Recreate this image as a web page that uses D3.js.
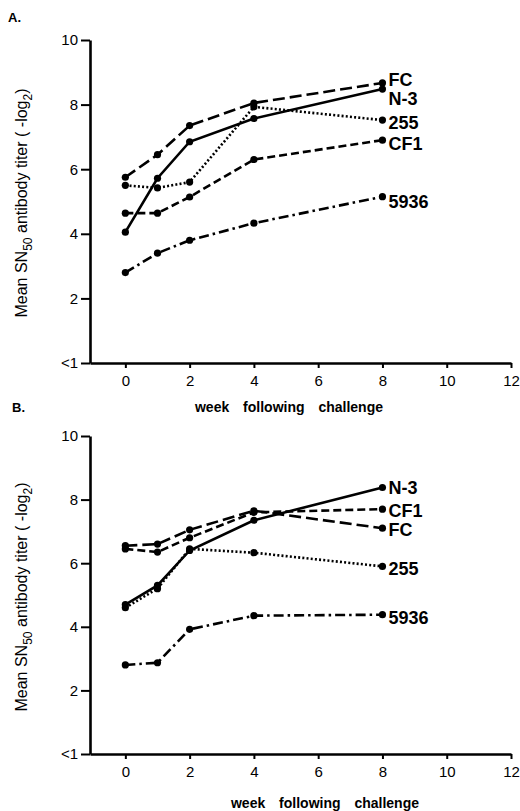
<!DOCTYPE html>
<html>
<head>
<meta charset="utf-8">
<script src="https://cdn.jsdelivr.net/npm/d3@7"></script>
<style>
body { margin: 0; background: #fff; }
svg { display: block; }
</style>
</head>
<body>
<svg id="chart" width="520" height="811"></svg>
<script>
// weeks on which titers were measured
var weeks = [0, 1, 2, 4, 8];
var xTicks = [0, 2, 4, 6, 8, 10, 12];
var yTicks = [0, 2, 4, 6, 8, 10];
var yTickLabels = ["<1", "2", "4", "6", "8", "10"];
var strains = ["FC", "N-3", "255", "CF1", "5936"];

// panel A
var aFC   = [5.75, 6.45, 7.35, 8.05, 8.67];
var aN3   = [4.05, 5.72, 6.85, 7.57, 8.48];
var a255  = [5.5, 5.42, 5.6, 7.93, 7.52];
var aCF1  = [4.64, 4.64, 5.14, 6.3, 6.9];
var a5936 = [2.8, 3.4, 3.8, 4.33, 5.15];

// panel B
var bFC   = [6.55, 6.6, 7.05, 7.65, 7.1];
var bN3   = [4.7, 5.3, 6.4, 7.35, 8.38];
var b255  = [4.6, 5.2, 6.45, 6.33, 5.9];
var bCF1  = [6.45, 6.35, 6.8, 7.6, 7.7];
var b5936 = [2.8, 2.87, 3.92, 4.35, 4.38];

var dash = {"FC": "12,5", "N-3": null, "255": "2,2.2", "CF1": "8,4", "5936": "10,4,2.5,4"};

var svg = d3.select("#chart");
svg.append("rect").attr("width", 520).attr("height", 811).attr("fill", "#fff");

var x = d3.scaleLinear().domain([-1.1, 12]).range([90, 511]);

function drawPanel(g, y, data, labelDy, letter, letterPos, titleX, titleY, ylabY) {
    var line = d3.line()
        .x(function(d) { return x(d[0]); })
        .y(function(d) { return y(d[1]); });

    // axes
    var ax = g.append("g")
        .attr("transform", "translate(90,0)")
        .call(d3.axisLeft(y).tickValues(yTicks)
            .tickFormat(function(d, i) { return yTickLabels[i]; })
            .tickSize(9).tickSizeOuter(0).tickPadding(3));
    var bx = g.append("g")
        .attr("transform", "translate(0," + y(0) + ")")
        .call(d3.axisBottom(x).tickValues(xTicks).tickSize(5).tickSizeOuter(0).tickPadding(7));
    [ax, bx].forEach(function(a) {
        a.select(".domain").attr("stroke", "#000").attr("stroke-width", 2.6);
        a.selectAll(".tick line").attr("stroke", "#000").attr("stroke-width", 2);
        a.selectAll(".tick text").attr("fill", "#000")
            .style("font-family", "'Liberation Sans', Arial, sans-serif")
            .style("font-size", "15px");
    });

    strains.forEach(function(s, i) {
        var pts = weeks.map(function(w, j) { return [w, data[i][j]]; });
        g.append("path")
            .attr("d", line(pts))
            .attr("fill", "none")
            .attr("stroke", "#000")
            .attr("stroke-width", 2.6)
            .attr("stroke-dasharray", dash[s]);
        g.selectAll(".dot" + i).data(pts).enter().append("circle")
            .attr("class", "dot" + i)
            .attr("cx", function(d) { return x(d[0]); })
            .attr("cy", function(d) { return y(d[1]); })
            .attr("r", 3.6)
            .attr("fill", "#000");
        var last = pts[pts.length - 1];
        g.append("text")
            .attr("x", x(last[0]) + 6)
            .attr("y", y(last[1]) + labelDy[i])
            .attr("dy", "0.36em")
            .style("font-family", "'Liberation Sans', Arial, sans-serif")
            .style("font-size", "18px")
            .style("font-weight", "bold")
            .text(s);
    });

    g.append("text")
        .attr("x", letterPos[0]).attr("y", letterPos[1])
        .style("font-family", "'Liberation Sans', Arial, sans-serif")
        .style("font-size", "13px")
        .style("font-weight", "bold")
        .text(letter);

    g.append("text")
        .attr("x", titleX).attr("y", titleY)
        .attr("text-anchor", "middle")
        .style("font-family", "'Liberation Sans', Arial, sans-serif")
        .style("font-size", "14px")
        .style("font-weight", "bold")
        .style("word-spacing", "10px")
        .text("week following challenge");

    var yl = g.append("text")
        .attr("transform", "translate(27," + ylabY + ") rotate(-90)")
        .attr("text-anchor", "middle")
        .style("font-family", "'Liberation Sans', Arial, sans-serif")
        .style("font-size", "16px");
    yl.append("tspan").text("Mean SN");
    yl.append("tspan").attr("dy", 5).style("font-size", "12px").text("50");
    yl.append("tspan").attr("dy", -5).text(" antibody titer ( -log");
    yl.append("tspan").attr("dy", 5).style("font-size", "12px").text("2");
    yl.append("tspan").attr("dy", -5).text(")");
}

var yA = d3.scaleLinear().domain([0, 10]).range([363, 40]);
var yB = d3.scaleLinear().domain([0, 10]).range([754, 436]);

drawPanel(svg.append("g"), yA, [aFC, aN3, a255, aCF1, a5936],
    [-3, 9, 2, 3, 5], "A.", [8, 22], 289, 412, 203);
drawPanel(svg.append("g"), yB, [bFC, bN3, b255, bCF1, b5936],
    [1, 0, 2, 1, 3], "B.", [12, 412], 325, 808, 597);
</script>
</body>
</html>
